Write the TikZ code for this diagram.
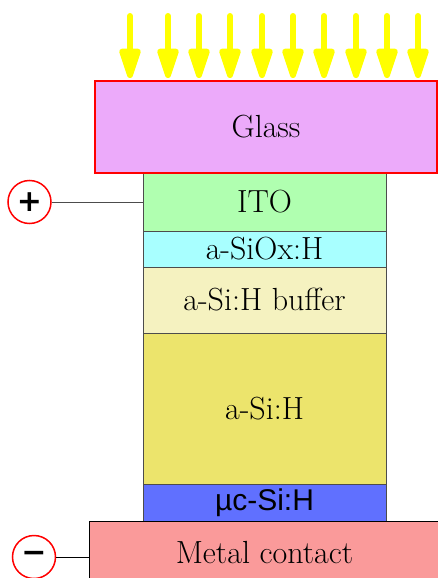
\documentclass[tikz,border=0pt]{standalone}
\usepackage{fontspec}
\usepackage{tikz}
\usetikzlibrary{arrows.meta}
\newfontfamily\arialfont{Liberation Sans}
\newfontfamily\signfont{DejaVu Sans}
\definecolor{glasscol}{RGB}{236,170,250}
\definecolor{itocol}{RGB}{176,255,176}
\definecolor{sioxcol}{RGB}{168,255,255}
\definecolor{buffercol}{RGB}{245,242,192}
\definecolor{asicol}{RGB}{236,228,108}
\definecolor{mccol}{RGB}{96,112,255}
\definecolor{metalcol}{RGB}{250,154,154}
\definecolor{sunyellow}{RGB}{255,255,0}

\begin{document}
\begin{tikzpicture}[x=1pt,y=-1pt,
  layer/.style={draw=black!70,line width=1pt,inner sep=0pt,minimum width=243pt,
    font=\fontsize{32}{36}\selectfont},
  sunray/.style={sunyellow,line width=6pt,line cap=round,
    -{Triangle[width=22pt,length=37pt,round]}},
  pole/.style={circle,draw=red,line width=1.5pt,minimum size=43pt,inner sep=0pt,
    font=\fontsize{30}{36}\selectfont\signfont\bfseries}]
\useasboundingbox (0,0) rectangle (438,578);
\clip (0,0) rectangle (438,578);

% cell stack
\node[layer,fill=itocol,minimum height=58pt] (ito) at (264.5,202) {ITO};
\node[layer,fill=sioxcol,minimum height=36pt] (siox) at (264.5,249) {a-SiOx:H};
\node[layer,fill=buffercol,minimum height=66pt] (buffer) at (264.5,300) {a-Si:H buffer};
\node[layer,fill=asicol,minimum height=151pt] (asi) at (264.5,408.5) {a-Si:H};
\node[layer,fill=mccol,minimum height=37pt] (muc) at (264.5,502.5) {\arialfont\fontsize{30}{36}\selectfont µc-Si:H};

\node[layer,draw=black,fill=metalcol,minimum width=351pt,minimum height=64pt] (metal) at (264.5,553) {Metal contact};
\node[layer,draw=red,line width=1.5pt,fill=glasscol,minimum width=342pt,minimum height=92pt] (glass) at (266,127) {Glass};

% light
\foreach \x in {130,168,199,230,262,293,324,356,387,418}
  \draw[sunray] (\x,16) -- (\x,78);

% contacts
\node[pole] (plus) at (29.5,202) {+};
\node[pole] (minus) at (34,557) {−};
\draw[black!70,line width=1pt] (plus.east) -- (plus.east -| ito.west);
\draw[line width=1pt] (minus.east) -- (minus.east -| metal.west);
\end{tikzpicture}
\end{document}
